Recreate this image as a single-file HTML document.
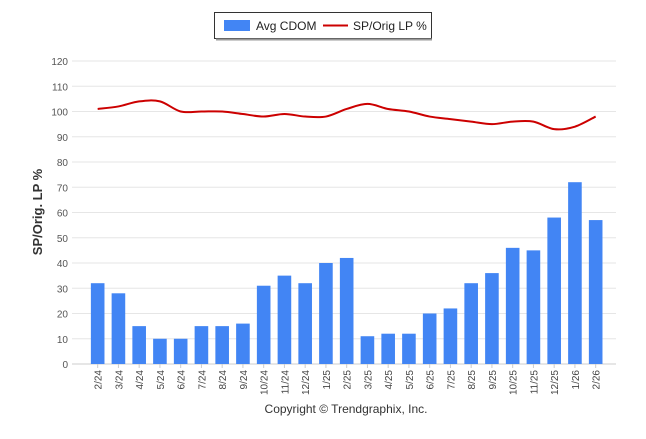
<!DOCTYPE html>
<html><head><meta charset="utf-8"><style>
body{margin:0;background:#fff;font-family:"Liberation Sans",sans-serif}
svg text{font-family:"Liberation Sans",sans-serif}
</style></head><body>
<svg width="646" height="434">
<g>
<rect x="214.5" y="12.5" width="217" height="26" fill="#fff" stroke="#333"/>
<line x1="216" y1="39.5" x2="432" y2="39.5" stroke="#999" stroke-width="2"/>
<rect x="224" y="20" width="26" height="11" fill="#4285f4"/>
<text x="256" y="30" font-size="12" fill="#222">Avg CDOM</text>
<line x1="323" y1="25.5" x2="348" y2="25.5" stroke="#cc0000" stroke-width="2"/>
<text x="353" y="30" font-size="12" fill="#222">SP/Orig LP %</text>
</g>
<g id="grid"></g><g id="bars"></g><g id="line"></g><g id="xl"></g>
<text transform="translate(42,212) rotate(-90)" text-anchor="middle" font-size="13" font-weight="bold" fill="#333">SP/Orig. LP %</text>
<text x="346" y="413" text-anchor="middle" font-size="12" fill="#333">Copyright © Trendgraphix, Inc.</text>
</svg>
<script>
const categories=["2/24","3/24","4/24","5/24","6/24","7/24","8/24","9/24","10/24","11/24","12/24","1/25","2/25","3/25","4/25","5/25","6/25","7/25","8/25","9/25","10/25","11/25","12/25","1/26","2/26"];
const cdom=[32,28,15,10,10,15,15,16,31,35,32,40,42,11,12,12,20,22,32,36,46,45,58,72,57];
const splp=[101,102,104,104,100,100,100,99,98,99,98,98,101,103,101,100,98,97,96,95,96,96,93,94,98];
const yTicks=[0,10,20,30,40,50,60,70,80,90,100,110,120];
const NS="http://www.w3.org/2000/svg";
const y=v=>364-v*(303/120);
const band=20.75,x0=87.3;
const x=i=>x0+band*(i+0.5);
function mk(t,a,p){const e=document.createElementNS(NS,t);for(const k in a)e.setAttribute(k,a[k]);p.appendChild(e);return e;}
const g=document.getElementById('grid');
yTicks.forEach(v=>{
 const l=mk('line',{x1:72,x2:616,y1:y(v),y2:y(v),stroke:v===0?'#ccc':'#e6e6e6'},g);
 
 
 const t=mk('text',{x:68,y:y(v)+4,'text-anchor':'end','font-size':10,fill:'#555'},g);
 t.textContent=v;
 
 
});
const b=document.getElementById('bars');
cdom.forEach((v,i)=>{
 const r=mk('rect',{x:x(i)-6.8,width:13.6,y:y(v),height:364-y(v),fill:'#4285f4'},b);
 
 
});
const xl=document.getElementById('xl');
categories.forEach((c,i)=>{
 mk('line',{x1:x(i),x2:x(i),y1:364,y2:368,stroke:'#ccc'},xl);
 const t=mk('text',{transform:`translate(${x(i)+4},370) rotate(-90)`,'text-anchor':'end','font-size':10,fill:'#444'},xl);
 t.textContent=c;
 
 
});
const pts=splp.map((v,i)=>[x(i),y(v)]);
let d=`M${pts[0][0]},${pts[0][1]}`;
for(let i=0;i<pts.length-1;i++){
 const p0=pts[Math.max(0,i-1)],p1=pts[i],p2=pts[i+1],p3=pts[Math.min(pts.length-1,i+2)];
 const k=1/6;
 d+=` C${p1[0]+(p2[0]-p0[0])*k},${p1[1]+(p2[1]-p0[1])*k} ${p2[0]-(p3[0]-p1[0])*k},${p2[1]-(p3[1]-p1[1])*k} ${p2[0]},${p2[1]}`;
}
const ln=mk('path',{d:d,fill:'none',stroke:'#cc0000','stroke-width':2},document.getElementById('line'));


</script>
</body></html>
